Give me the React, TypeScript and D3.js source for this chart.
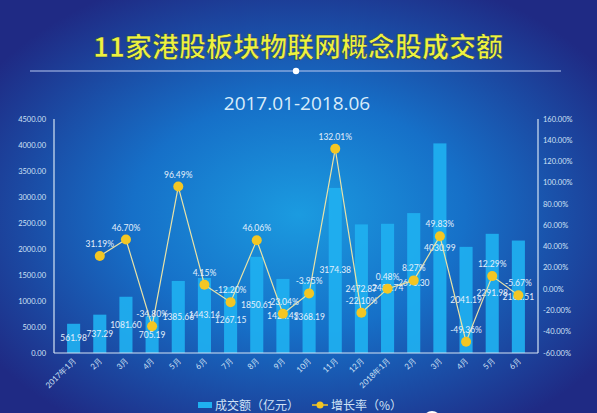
import { useEffect, useRef } from "react";
import * as d3 from "d3";

// Monthly turnover (亿元) and month-on-month growth (%) for 11 HK IoT stocks
const months = [
  "2017年1月", "2月", "3月", "4月", "5月", "6月", "7月", "8月", "9月", "10月",
  "11月", "12月", "2018年1月", "2月", "3月", "4月", "5月", "6月",
];
const turnover = [
  561.98, 737.29, 1081.6, 705.19, 1385.66, 1443.14, 1267.15, 1850.61, 1424.43,
  1368.19, 3174.38, 2472.87, 2484.74, 2690.3, 4030.99, 2041.19, 2291.98, 2162.51,
];
const growth: (number | null)[] = [
  null, 31.19, 46.7, -34.8, 96.49, 4.15, -12.2, 46.06, -23.04, -3.95, 132.01,
  -22.1, 0.48, 8.27, 49.83, -49.36, 12.29, -5.67,
];
const leftTicks = d3.range(0, 4501, 500);
const rightTicks = d3.range(-60, 161, 20);

const W = 597;
const H = 413;
const LABEL = "#cfe2f6";
const BAR = "#1fb0f0";
const DOT = "#f3c623";
const LINE = "#e9e2a6";
const FONT = "Lato, 'Noto Sans', sans-serif";

// fixed 2 decimals with a plain hyphen minus
const f2 = (v: number) => v.toFixed(2);

export default function App() {
  const ref = useRef<SVGSVGElement | null>(null);

  useEffect(() => {
    document.body.style.margin = "0";
    const svg = d3.select(ref.current);
    svg.selectAll("*").remove();

    const defs = svg.append("defs");
    const bg = defs
      .append("radialGradient")
      .attr("id", "bg")
      .attr("cx", "50%")
      .attr("cy", "52%")
      .attr("r", "62%");
    bg.append("stop").attr("offset", "0%").attr("stop-color", "#1b9be0");
    bg.append("stop").attr("offset", "45%").attr("stop-color", "#1670c8");
    bg.append("stop").attr("offset", "100%").attr("stop-color", "#1f2a84");

    svg.append("rect").attr("width", W).attr("height", H).attr("fill", "url(#bg)");

    // header
    svg
      .append("text")
      .attr("x", 298)
      .attr("y", 57)
      .attr("text-anchor", "middle")
      .attr("font-family", "'Noto Sans CJK SC', sans-serif")
      .attr("font-weight", 700)
      .attr("font-size", 27)
      .attr("fill", "#eef23e")
      .attr("stroke", "#1a3a6a")
      .attr("stroke-width", 0.6)
      .text("11家港股板块物联网概念股成交额");
    svg
      .append("line")
      .attr("x1", 30)
      .attr("x2", 561)
      .attr("y1", 71)
      .attr("y2", 71)
      .attr("stroke", "#b8c8f0")
      .attr("stroke-width", 1.2);
    svg.append("circle").attr("cx", 296).attr("cy", 71).attr("r", 3.2).attr("fill", "#ffffff");
    svg
      .append("text")
      .attr("x", 297)
      .attr("y", 110)
      .attr("text-anchor", "middle")
      .attr("font-family", "'Open Sans', sans-serif")
      .attr("font-size", 19)
      .attr("fill", "#d8ecfa")
      .text("2017.01-2018.06");

    const left = 54;
    const right = 538;
    const top = 119;
    const bottom = 353;

    const idx = d3.range(months.length);
    const x = d3.scaleBand<number>().domain(idx).range([left, right]).padding(0.5);
    const y = d3.scaleLinear().domain([0, 4500]).range([bottom, top]);
    const y2 = d3.scaleLinear().domain([-60, 160]).range([bottom, top]);
    const mid = (i: number) => x(i)! + x.bandwidth() / 2;

    // bars
    svg
      .append("g")
      .selectAll("rect")
      .data(turnover)
      .join("rect")
      .attr("x", (_, i) => x(i)!)
      .attr("y", (d) => y(d))
      .attr("width", x.bandwidth())
      .attr("height", (d) => bottom - y(d))
      .attr("fill", BAR)
      .attr("fill-opacity", 0.92);

    // axes
    const axisG = svg.append("g").attr("stroke", "#d6e4f4").attr("stroke-width", 1.2);
    axisG.append("line").attr("x1", left).attr("x2", left).attr("y1", top).attr("y2", bottom);
    axisG.append("line").attr("x1", right).attr("x2", right).attr("y1", top).attr("y2", bottom);
    axisG.append("line").attr("x1", left).attr("x2", right).attr("y1", bottom).attr("y2", bottom);

    svg
      .append("g")
      .selectAll("text")
      .data(leftTicks)
      .join("text")
      .attr("x", 46)
      .attr("y", (d) => y(d) + 2.5)
      .attr("text-anchor", "end")
      .attr("font-family", FONT)
      .attr("font-size", 7.5)
      .attr("fill", LABEL)
      .text((d) => f2(d));

    svg
      .append("g")
      .selectAll("text")
      .data(rightTicks)
      .join("text")
      .attr("x", 543)
      .attr("y", (d) => y2(d) + 2.5)
      .attr("font-family", FONT)
      .attr("font-size", 7.5)
      .attr("fill", LABEL)
      .text((d) => `${f2(d)}%`);

    // month labels
    svg
      .append("g")
      .selectAll("text")
      .data(months)
      .join("text")
      .attr("transform", (_, i) => `translate(${mid(i) + 3},${bottom + 8}) rotate(-45)`)
      .attr("text-anchor", "end")
      .attr("font-family", FONT)
      .attr("font-size", 8)
      .attr("fill", LABEL)
      .text((d) => d);

    // bar value labels (at bar middle)
    svg
      .append("g")
      .selectAll("text")
      .data(turnover)
      .join("text")
      .attr("x", (_, i) => mid(i))
      .attr("y", (d) => (y(d) + bottom) / 2 + 3)
      .attr("text-anchor", "middle")
      .attr("font-family", FONT)
      .attr("font-size", 8.5)
      .attr("fill", "#e4f0fb")
      .text((d) => f2(d));

    // growth line
    const pts = growth
      .map((g, i) => ({ g, i }))
      .filter((p) => p.g !== null) as { g: number; i: number }[];
    svg
      .append("path")
      .datum(pts)
      .attr(
        "d",
        d3
          .line<{ g: number; i: number }>()
          .x((p) => mid(p.i))
          .y((p) => y2(p.g)),
      )
      .attr("fill", "none")
      .attr("stroke", LINE)
      .attr("stroke-width", 1.2);
    svg
      .append("g")
      .selectAll("circle")
      .data(pts)
      .join("circle")
      .attr("cx", (p) => mid(p.i))
      .attr("cy", (p) => y2(p.g))
      .attr("r", 5)
      .attr("fill", DOT);
    svg
      .append("g")
      .selectAll("text")
      .data(pts)
      .join("text")
      .attr("x", (p) => mid(p.i))
      .attr("y", (p) => y2(p.g) - 9)
      .attr("text-anchor", "middle")
      .attr("font-family", FONT)
      .attr("font-size", 8.5)
      .attr("fill", "#e4f0fb")
      .text((p) => `${f2(p.g)}%`);

    // legend
    const lg = svg.append("g").attr("transform", "translate(0,405)");
    lg.append("rect").attr("x", 198).attr("y", -3).attr("width", 14).attr("height", 6).attr("fill", BAR);
    lg.append("text")
      .attr("x", 215)
      .attr("y", 4.5)
      .attr("font-family", "'Noto Sans CJK SC', sans-serif")
      .attr("font-size", 12)
      .attr("fill", LABEL)
      .text("成交额（亿元）");
    lg.append("line").attr("x1", 312).attr("x2", 328).attr("y1", 0).attr("y2", 0).attr("stroke", DOT).attr("stroke-width", 1.5);
    lg.append("circle").attr("cx", 320).attr("cy", 0).attr("r", 3.5).attr("fill", DOT);
    lg.append("text")
      .attr("x", 331)
      .attr("y", 4.5)
      .attr("font-family", "'Noto Sans CJK SC', sans-serif")
      .attr("font-size", 12)
      .attr("fill", LABEL)
      .text("增长率（%）");

    svg.append("circle").attr("cx", 432).attr("cy", 420).attr("r", 9).attr("fill", "#ffffff");
  }, []);

  return <svg ref={ref} width={W} height={H} style={{ display: "block" }} />;
}
